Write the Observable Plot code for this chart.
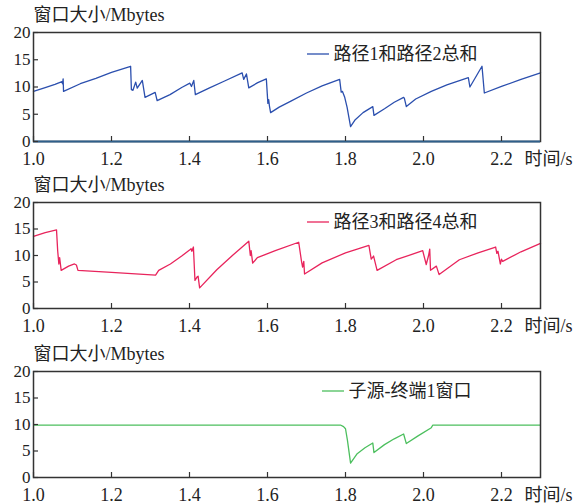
<!DOCTYPE html>
<html><head><meta charset="utf-8">
<script src="https://cdn.jsdelivr.net/npm/d3@7"></script>
<script src="https://cdn.jsdelivr.net/npm/@observablehq/plot@0.6"></script>
<style>
body{margin:0;background:#fff;}
#chart{width:575px;}
</style>
</head><body><div id="chart"></div>
<script>
const xTicks = [1.0, 1.2, 1.4, 1.6, 1.8, 2.0, 2.2];
const yTicks = [0, 5, 10, 15, 20];
const yTitle = "窗口大小/Mbytes";
const xTitle = "时间/s";

const name1 = "路径1和路径2总和";
const t1 = [1.000,1.030,1.055,1.073,1.0745,1.076,1.077,1.12,1.16,1.20,1.249,1.251,1.255,1.262,1.266,1.279,1.286,1.312,1.317,
  1.35,1.38,1.401,1.405,1.411,1.415,1.45,1.49,1.535,1.539,1.546,1.552,1.575,1.597,1.601,1.603,1.605,1.608,
  1.63,1.66,1.70,1.74,1.785,1.789,1.792,1.798,1.804,1.813,1.825,1.845,1.870,1.873,1.90,1.925,1.949,1.951,1.956,
  1.98,2.02,2.06,2.115,2.119,2.150,2.156,2.20,2.25,2.30];
const v1 = [9.2,9.9,10.5,11.0,10.6,11.5,9.2,10.6,11.6,12.7,13.8,9.5,9.4,10.9,9.8,11.2,8.1,9.0,7.5,
  8.6,9.9,10.7,10.1,11.2,8.6,9.8,11.1,12.6,11.4,12.4,9.85,10.8,11.5,7.0,7.7,6.5,5.3,
  6.3,7.4,8.9,10.2,11.4,9.05,9.2,8.1,6.3,2.75,4.0,5.3,6.4,4.8,6.0,7.2,8.1,7.9,6.4,
  7.8,9.2,10.4,11.7,10.0,13.8,8.9,10.1,11.4,12.6];

const name2 = "路径3和路径4总和";
const t2 = [1.000,1.030,1.059,1.062,1.065,1.067,1.071,1.090,1.105,1.110,1.114,1.200,1.313,1.321,1.351,1.380,1.401,1.404,1.406,1.410,1.414,1.420,1.422,1.426,
  1.47,1.51,1.552,1.556,1.558,1.562,1.574,1.62,1.680,1.687,1.690,1.693,1.695,1.74,1.80,1.860,1.866,1.872,1.881,
  1.93,1.998,2.007,2.013,2.016,2.018,2.033,2.040,2.092,2.14,2.185,2.188,2.191,2.197,2.200,2.203,2.25,2.30];
const v2 = [13.6,14.3,14.85,10.9,8.4,9.6,7.2,8.0,8.4,8.2,7.2,6.8,6.3,7.2,8.4,9.9,11.1,11.3,10.8,11.6,5.3,6.0,6.1,3.9,
  7.3,10.0,12.7,10.0,10.9,8.55,9.6,10.9,12.5,9.0,7.8,8.9,6.5,8.6,10.5,11.9,9.3,9.9,7.2,
  9.2,10.9,8.3,10.0,11.2,7.2,8.0,6.4,9.2,10.5,11.6,10.4,10.8,8.4,9.3,8.9,10.7,12.3];

const name3 = "子源-终端1窗口";
const t3 = [1.000,1.787,1.795,1.800,1.805,1.813,1.830,1.850,1.870,1.873,1.90,1.925,1.949,1.956,1.985,2.020,2.024,2.300];
const v3 = [9.9,9.9,9.6,9.2,7.0,2.7,4.5,5.6,6.5,4.7,6.2,7.3,8.2,6.4,7.8,9.4,9.9,9.9];

const FONT = "'Liberation Serif','Noto Sans CJK SC'";

function panel({t, v, color, name, height, mt, mb, legX, legY, zeroColor}) {
  const data = t.map((d, i) => ({t: d, v: v[i]}));
  const W = 575, ml = 33, mr = 35;
  const plotH = height - mt - mb, plotW = W - ml - mr;
  const marks = [
    Plot.line(data, {x: "t", y: "v", stroke: color, strokeWidth: 1.3}),
    Plot.frame({stroke: "#333", strokeWidth: 1.5}),
    Plot.tickX(xTicks, {x: d => d, stroke: "#333", strokeWidth: 1.2, insetTop: plotH - 5}),
    Plot.tickY(yTicks, {y: d => d, stroke: "#333", strokeWidth: 1.2, insetRight: plotW - 5}),
    Plot.axisX(xTicks, {tickSize: 0, tickPadding: 11, label: null, tickFormat: d => d.toFixed(1), fontSize: 18, fill: "#222"}),
    Plot.axisY(yTicks, {tickSize: 0, tickPadding: 3, label: null, fontSize: 17, fill: "#222"}),
    Plot.text([yTitle], {frameAnchor: "top-left", dy: -17, textAnchor: "start", lineAnchor: "middle", fontSize: 18, fill: "#222"}),
    Plot.text([xTitle], {frameAnchor: "bottom-right", dx: -16, dy: 18, textAnchor: "start", lineAnchor: "middle", fontSize: 18, fill: "#222"}),
    Plot.text([name], {frameAnchor: "top-left", dx: legX + 26, dy: legY, textAnchor: "start", lineAnchor: "middle", fontSize: 18, fill: "#222"})
  ];
  if (zeroColor) marks.splice(2, 0, Plot.ruleY([0], {stroke: zeroColor, strokeWidth: 1.8}));
  const svg = Plot.plot({
    width: W, height, marginLeft: ml, marginRight: mr, marginTop: mt, marginBottom: mb,
    style: {fontFamily: "Liberation Serif", fontSize: "18px", overflow: "visible"},
    x: {domain: [1.0, 2.3], axis: null, label: null},
    y: {domain: [0, 20], axis: null, label: null},
    marks
  });
  svg.style.display = "block";
  d3.select(svg).selectAll("text").style("font-family", FONT);
  d3.select(svg).append("line")
    .attr("x1", ml + legX).attr("x2", ml + legX + 22)
    .attr("y1", mt + legY).attr("y2", mt + legY)
    .attr("stroke", color).attr("stroke-width", 1.3);
  return svg;
}

const root = document.getElementById("chart");
root.append(panel({t: t1, v: v1, color: "#2b4fae", name: name1, height: 170, mt: 32, mb: 29, legX: 274, legY: 22, zeroColor: "#2f5f8a"}));
root.append(panel({t: t2, v: v2, color: "#e8245c", name: name2, height: 170, mt: 32, mb: 32, legX: 274, legY: 20}));
root.append(panel({t: t3, v: v3, color: "#4cbf5e", name: name3, height: 164, mt: 31, mb: 27, legX: 289, legY: 20}));
</script>
</body></html>
